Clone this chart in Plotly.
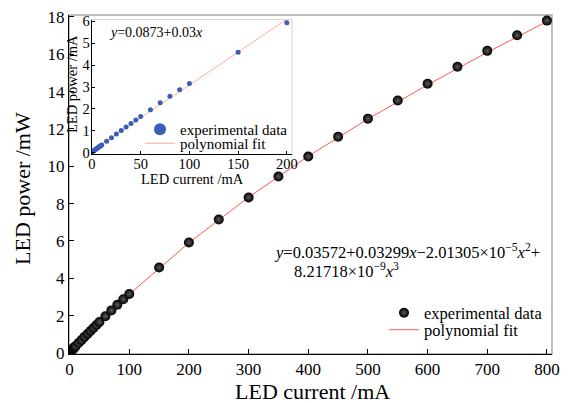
import plotly.graph_objects as go

# ---- data ----
current_mA = [0, 1, 2, 3, 4, 5, 6, 7, 8, 9, 10, 15, 20, 25, 30, 35, 40, 45, 50,
              60, 70, 80, 90, 100, 150, 200, 250, 300, 350, 400, 450, 500,
              550, 600, 650, 700, 750, 800]
power_mW = [0.04, 0.07, 0.10, 0.14, 0.17, 0.20, 0.23, 0.27, 0.30, 0.33, 0.36,
            0.53, 0.69, 0.86, 1.02, 1.18, 1.34, 1.50, 1.66,
            1.97, 2.28, 2.58, 2.88, 3.16, 4.58, 5.92, 7.15, 8.33, 9.45, 10.52,
            11.58, 12.55, 13.52, 14.42, 15.33, 16.18, 17.02, 17.80]

fit_x = [0, 100, 200, 300, 400, 500, 600, 700, 800]
fit_y = [0.04, 3.14, 5.90, 8.34, 10.54, 12.53, 14.36, 16.10, 17.75]

inset_limit = 200
inset_x = [c for c in current_mA if c <= inset_limit]
inset_y = [p for c, p in zip(current_mA, power_mW) if c <= inset_limit]
inset_fit_x = [0, 210]
inset_fit_y = [0.09, 6.39]

main_ticks = [0, 100, 200, 300, 400, 500, 600, 700, 800]
main_yticks = [0, 2, 4, 6, 8, 10, 12, 14, 16, 18]
inset_ticks = [0, 50, 100, 150, 200]
inset_yticks = [0, 1, 2, 3, 4, 5, 6]

FONT = "Liberation Serif"
W, H = 577, 403
ML, MR, MT, MB = 69, 25, 15, 49
PW, PH = W - ML - MR, H - MT - MB


def px(x):
    return (x - ML) / PW


def py(y):
    return (H - MB - y) / PH


def f(size):
    return dict(family=FONT, size=size, color="black")


fig = go.Figure()

fig.add_trace(go.Scatter(
    x=fit_x, y=fit_y, mode="lines", name="polynomial fit",
    line=dict(color="#ff5a4a", width=1), legend="legend3",
    xaxis="x", yaxis="y"))
fig.add_trace(go.Scatter(
    x=current_mA, y=power_mW, mode="markers", name="experimental data",
    marker=dict(size=10, color="#000000",
                gradient=dict(type="radial", color="#5a5a5a"),
                line=dict(width=0)),
    legend="legend", xaxis="x", yaxis="y"))

fig.add_trace(go.Scatter(
    x=inset_fit_x, y=inset_fit_y, mode="lines", name="polynomial fit",
    line=dict(color="#ffab9c", width=1), legend="legend4",
    xaxis="x2", yaxis="y2"))
fig.add_trace(go.Scatter(
    x=inset_x, y=inset_y, mode="markers", name="experimental data",
    marker=dict(size=5, color="#3a5db8", line=dict(width=0)),
    legend="legend2", xaxis="x2", yaxis="y2"))

axis_common = dict(showgrid=False, zeroline=False, showline=True,
                   linecolor="black", linewidth=1, ticks="inside",
                   tickcolor="black", mirror=False, automargin=False)

fig.update_layout(
    width=W, height=H,
    margin=dict(l=ML, r=MR, t=MT, b=MB, autoexpand=False),
    paper_bgcolor="white", plot_bgcolor="white",
    font=f(14),
    xaxis=dict(domain=[0, 1], range=[-1, 808.5], tickvals=main_ticks,
               ticklen=5, tickfont=f(17), anchor="y", **axis_common),
    yaxis=dict(domain=[0, 1], range=[-0.055, 18.1], tickvals=main_yticks,
               ticklen=5, tickfont=f(17), anchor="x", **axis_common),
    xaxis2=dict(domain=[px(91.7), px(291.7)], range=[-0.3, 205],
                tickvals=inset_ticks, ticklen=3, tickfont=f(14.5),
                ticklabelstandoff=-3, anchor="y2", **axis_common),
    yaxis2=dict(domain=[py(154), py(20)], range=[-0.05, 6.05],
                tickvals=inset_yticks, ticklen=3, tickfont=f(14.5),
                ticklabelstandoff=-2, anchor="x2", **axis_common),
    legend=dict(x=px(384), y=py(313), xanchor="left", yanchor="middle",
                bgcolor="rgba(0,0,0,0)", font=f(16.5), itemsizing="trace"),
    legend3=dict(x=px(384), y=py(330), xanchor="left", yanchor="middle",
                 bgcolor="rgba(0,0,0,0)", font=f(16.5)),
    legend2=dict(x=px(140), y=py(129.5), xanchor="left", yanchor="middle",
                 bgcolor="rgba(0,0,0,0)", font=f(15), itemsizing="constant"),
    legend4=dict(x=px(140), y=py(143.5), xanchor="left", yanchor="middle",
                 bgcolor="rgba(0,0,0,0)", font=f(15)),
    shapes=[
        dict(type="rect", xref="x domain", yref="y domain", x0=0, x1=1, y0=0, y1=1,
             line=dict(color="#a8a8a8", width=1.5), layer="below"),
        dict(type="rect", xref="x2 domain", yref="y2 domain", x0=0, x1=1, y0=0, y1=1,
             line=dict(color="#b0b0b0", width=1.2), fillcolor="white", layer="below"),
    ],
    annotations=[
        dict(text="LED current /mA", xref="paper", yref="paper",
             x=px(312), y=py(391), xanchor="center", yanchor="middle",
             showarrow=False, font=f(22)),
        dict(text="LED power /mW", xref="paper", yref="paper",
             x=px(22), y=py(189), xanchor="center", yanchor="middle",
             textangle=-90, showarrow=False, font=f(22)),
        dict(text="LED current /mA", xref="paper", yref="paper",
             x=px(192), y=py(179), xanchor="center", yanchor="middle",
             showarrow=False, font=f(14.5)),
        dict(text="LED power /mA", xref="paper", yref="paper",
             x=px(72), y=py(84), xanchor="center", yanchor="middle",
             textangle=-90, showarrow=False, font=f(14.5)),
        dict(text="<i>y</i>=0.03572+0.03299<i>x</i>\u22122.01305\u00d710<sup>\u22125</sup><i>x</i><sup>2</sup>+",
             xref="paper", yref="paper", x=px(272), y=py(251), xanchor="left",
             yanchor="middle", showarrow=False, font=f(16.5)),
        dict(text="8.21718\u00d710<sup>\u22129</sup><i>x</i><sup>3</sup>",
             xref="paper", yref="paper", x=px(292), y=py(270), xanchor="left",
             yanchor="middle", showarrow=False, font=f(16.5)),
        dict(text="<i>y</i>=0.0873+0.03<i>x</i>",
             xref="paper", yref="paper", x=px(107), y=py(33), xanchor="left",
             yanchor="middle", showarrow=False, font=f(14)),
    ],
    showlegend=True,
)

fig.write_html("out.html", config={"displayModeBar": False},
               post_script="document.body.style.margin='0';document.body.style.padding='0';")
